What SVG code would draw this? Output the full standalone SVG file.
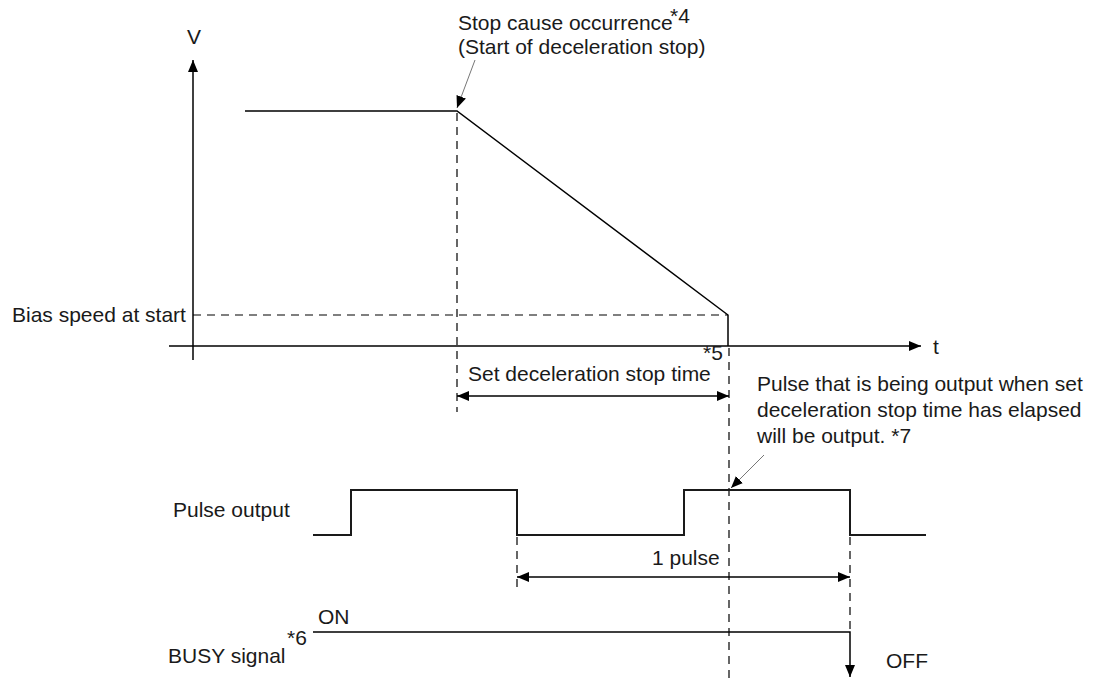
<svg xmlns="http://www.w3.org/2000/svg" width="1101" height="678" viewBox="0 0 1101 678">
<style>
text{font-family:"Liberation Sans",Arial,sans-serif;font-size:21px;fill:#1a1a1a}
.ln{stroke:#000;stroke-width:1.5;fill:none}
.pl{stroke:#1a1a1a;stroke-width:2;fill:none}
.da{stroke:#000;stroke-width:1.2;stroke-dasharray:8,6;fill:none}
.co{stroke:#777;stroke-width:1;fill:none}
.ah{fill:#000}
</style>
<defs>
<marker id="arr" viewBox="0 0 12 10" refX="12" refY="5" markerWidth="12" markerHeight="10" markerUnits="userSpaceOnUse" orient="auto-start-reverse"><path d="M0,0 L12,5 L0,10 Z" class="ah"/></marker>
</defs>
<g id="connectors">
<line class="ln" x1="193" y1="360" x2="193" y2="60" marker-end="url(#arr)"/>
<line class="ln" x1="169" y1="346" x2="921" y2="346" marker-end="url(#arr)"/>
<line class="da" x1="193" y1="315" x2="728" y2="315"/>
<polyline class="ln" points="245,111 457,111 728,315 728,346"/>
<line class="da" x1="457" y1="113" x2="457" y2="412"/>
<line class="da" x1="729" y1="348" x2="729" y2="678"/>
<line class="ln" x1="457" y1="396" x2="729" y2="396" marker-start="url(#arr)" marker-end="url(#arr)"/>
<line class="co" x1="475" y1="60" x2="457" y2="108" marker-end="url(#arr)"/>
<line class="co" x1="764" y1="455" x2="731" y2="488" marker-end="url(#arr)"/>
<polyline class="pl" points="313,535 351,535 351,490 517,490 517,535 684,535 684,490 850,490 850,535 926,535"/>
<line class="da" x1="517" y1="537" x2="517" y2="592"/>
<line class="da" x1="850" y1="537" x2="850" y2="632"/>
<line class="ln" x1="517" y1="577" x2="850" y2="577" marker-start="url(#arr)" marker-end="url(#arr)"/>
<polyline class="ln" points="313,632 850,632 850,677" marker-end="url(#arr)"/>
</g>
<g id="axis-v"><text x="194" y="44" text-anchor="middle">V</text></g>
<g id="axis-t"><text x="933" y="354">t</text></g>
<g id="stop-cause">
<text x="458" y="30">Stop cause occurrence</text>
<text x="670" y="23">*4</text>
<text x="458" y="54">(Start of deceleration stop)</text>
</g>
<g id="bias"><text x="12" y="322">Bias speed at start</text></g>
<g id="decel-time">
<text x="468" y="381">Set deceleration stop time</text>
<text x="703" y="360">*5</text>
</g>
<g id="note7">
<text x="757" y="391">Pulse that is being output when set</text>
<text x="757" y="417">deceleration stop time has elapsed</text>
<text x="757" y="443">will be output. *7</text>
</g>
<g id="pulse-output"><text x="173" y="517">Pulse output</text></g>
<g id="one-pulse"><text x="652" y="565">1 pulse</text></g>
<g id="busy">
<text x="318" y="624">ON</text>
<text x="168" y="663">BUSY signal</text>
<text x="287" y="645">*6</text>
<text x="886" y="668">OFF</text>
</g>
</svg>
